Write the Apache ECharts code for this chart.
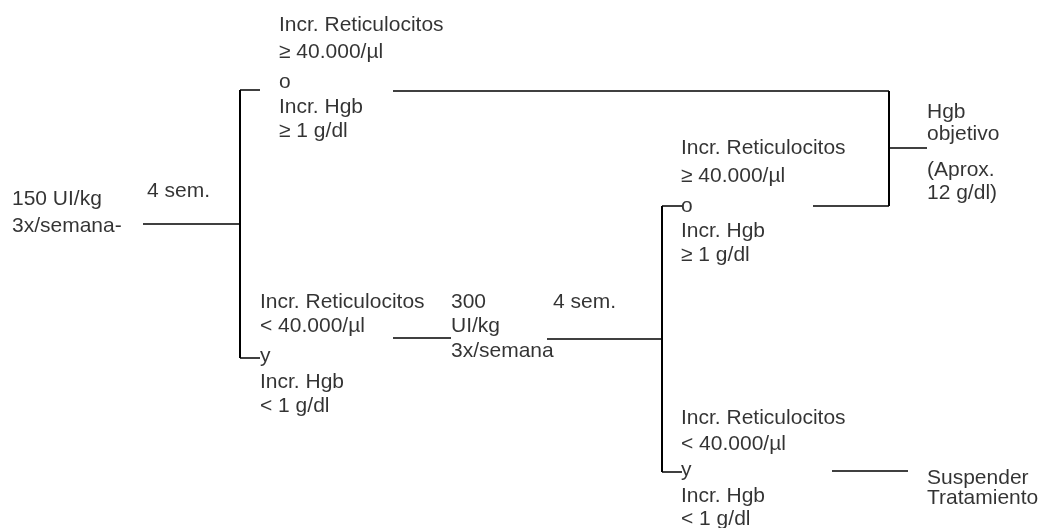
<!DOCTYPE html>
<html>
<head>
<meta charset="utf-8">
<script src="https://cdn.jsdelivr.net/npm/echarts@6/dist/echarts.min.js"></script>
<style>
  html, body { margin: 0; padding: 0; background: #fff; }
  #chart { width: 1048px; height: 528px; }
</style>
</head>
<body>
<div id="chart"></div>
<script>
  // connector segments [x1, y1, x2, y2] in diagram units (x right, y down)
  var hSegments = [
    [143, 224, 240, 224],
    [240, 90, 260, 90],
    [393, 91, 889, 91],
    [813, 206, 889, 206],
    [889, 148, 927, 148],
    [240, 358, 260, 358],
    [393, 338, 451, 338],
    [547, 339, 662, 339],
    [662, 206, 682, 206],
    [662, 472, 682, 472],
    [832, 471, 908, 471]
  ];
  var vSegments = [
    [240, 90, 240, 358],
    [889, 91, 889, 206],
    [662, 206, 662, 472]
  ];

  // text lines [x, y, text]
  var startLabels = [
    [12, 199, '150 UI/kg'],
    [12, 226, '3x/semana-'],
    [147, 191, '4 sem.']
  ];
  var upperRespLabels = [
    [279, 25, 'Incr. Reticulocitos'],
    [279, 52, '≥ 40.000/µl'],
    [279, 82, 'o'],
    [279, 107, 'Incr. Hgb'],
    [279, 131, '≥ 1 g/dl']
  ];
  var lowerRespLabels = [
    [260, 302, 'Incr. Reticulocitos'],
    [260, 326, '< 40.000/µl'],
    [260, 356, 'y'],
    [260, 382, 'Incr. Hgb'],
    [260, 406, '< 1 g/dl']
  ];
  var doseLabels = [
    [451, 302, '300'],
    [451, 326, 'UI/kg'],
    [451, 351, '3x/semana'],
    [553, 302, '4 sem.']
  ];
  var secondUpperLabels = [
    [681, 148, 'Incr. Reticulocitos'],
    [681, 176, '≥ 40.000/µl'],
    [681, 206, 'o'],
    [681, 231, 'Incr. Hgb'],
    [681, 255, '≥ 1 g/dl']
  ];
  var secondLowerLabels = [
    [681, 418, 'Incr. Reticulocitos'],
    [681, 444, '< 40.000/µl'],
    [681, 470, 'y'],
    [681, 496, 'Incr. Hgb'],
    [681, 519, '< 1 g/dl']
  ];
  var outcomeLabels = [
    [927, 112, 'Hgb'],
    [927, 134, 'objetivo'],
    [927, 170, '(Aprox.'],
    [927, 193, '12 g/dl)'],
    [927, 478, 'Suspender'],
    [927, 498, 'Tratamiento']
  ];

  var allLabels = [].concat(startLabels, upperRespLabels, lowerRespLabels, doseLabels,
    secondUpperLabels, secondLowerLabels, outcomeLabels);

  function toLines(segs) {
    return segs.map(function (s) { return { coords: [[s[0], s[1]], [s[2], s[3]]] }; });
  }

  var chart = echarts.init(document.getElementById('chart'));
  var option = {
    animation: false,
    backgroundColor: '#fff',
    grid: { left: 0, right: 0, top: 0, bottom: 0 },
    xAxis: { type: 'value', min: 0, max: 1048, show: false },
    yAxis: { type: 'value', min: 0, max: 528, inverse: true, show: false },
    series: [
      {
        type: 'lines',
        coordinateSystem: 'cartesian2d',
        polyline: false,
        silent: true,
        lineStyle: { color: '#000', width: 1.5, opacity: 1 },
        data: toLines(hSegments)
      },
      {
        type: 'lines',
        coordinateSystem: 'cartesian2d',
        silent: true,
        lineStyle: { color: '#000', width: 2, opacity: 1 },
        data: toLines(vSegments)
      },
      {
        type: 'scatter',
        symbolSize: 0,
        silent: true,
        label: {
          show: true,
          position: 'right',
          distance: 0,
          formatter: '{b}',
          color: '#000',
          fontSize: 21,
          fontFamily: '"Liberation Sans", Arial, sans-serif'
        },
        data: allLabels.map(function (l) { return { name: l[2], value: [l[0], l[1]] }; })
      }
    ]
  };
  chart.setOption(option);
</script>
</body>
</html>
